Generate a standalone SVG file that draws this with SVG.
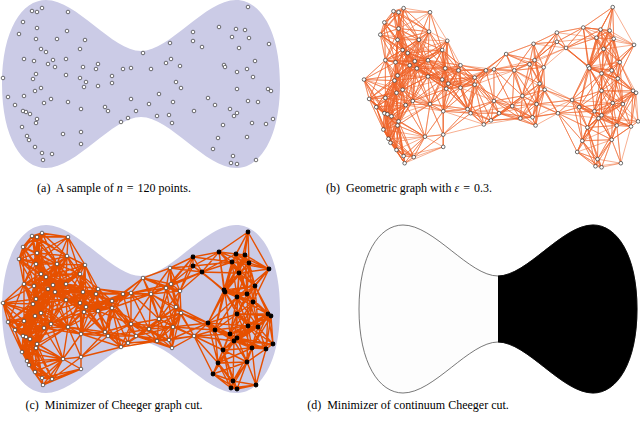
<svg xmlns="http://www.w3.org/2000/svg" width="640" height="421" viewBox="0 0 640 421">
<style>
.cap{font-family:"Liberation Serif","Times New Roman",serif;font-size:12px;fill:#000}
.shape{fill:#cbcbe6}
.wp{fill:#fff;stroke:#333;stroke-width:0.7}
</style>
<defs>
<path id="S" d="M0 84C0 30 20 0 44 0C75 0 110 51 139 51C168 51 203 0 234 0C258 0 278 30 278 84C278 138 258 168 234 168C203 168 168 117 139 117C110 117 75 168 44 168C20 168 0 138 0 84Z"/>
<path id="E" fill="none" stroke-linecap="round" d="M3 78 8 97 3 78 15 105 3 78 23 111 3 78 24 59 3 78 24 96 3 78 26 112 3 78 33 79 3 78 34 61 3 78 35 91 3 78 36 74 3 78 41 88
M8 97 15 105 8 97 22 127 8 97 23 111 8 97 24 59 8 97 24 96 8 97 26 112 8 97 30 114 8 97 33 79 8 97 35 91 8 97 36 74 8 97 36 123 8 97 37 119 8 97 41 88 8 97 44 103
M15 105 22 127 15 105 23 111 15 105 24 96 15 105 26 112 15 105 27 136 15 105 29 140 15 105 30 114 15 105 33 79 15 105 35 91 15 105 36 74 15 105 36 123 15 105 37 119 15 105 41 88 15 105 44 103 15 105 51 99
M19 34 23 22 19 34 24 59 19 34 32 11 19 34 34 61 19 34 36 39 19 34 37 12 19 34 37 28 19 34 41 49 19 34 42 8 19 34 46 52 19 34 48 64 19 34 53 60 19 34 57 39
M22 127 23 111 22 127 24 96 22 127 26 112 22 127 27 136 22 127 29 140 22 127 30 114 22 127 35 91 22 127 35 147 22 127 36 123 22 127 37 119 22 127 42 153 22 127 43 160 22 127 44 103 22 127 51 99 22 127 52 154 22 127 63 134
M23 22 24 59 23 22 32 11 23 22 34 61 23 22 36 39 23 22 37 12 23 22 37 28 23 22 41 49 23 22 42 8 23 22 46 52 23 22 57 39
M23 111 24 96 23 111 26 112 23 111 27 136 23 111 29 140 23 111 30 114 23 111 33 79 23 111 35 91 23 111 35 147 23 111 36 74 23 111 36 123 23 111 37 119 23 111 41 88 23 111 44 103 23 111 51 99
M24 59 24 96 24 59 33 79 24 59 34 61 24 59 35 91 24 59 36 39 24 59 36 74 24 59 37 28 24 59 41 49 24 59 41 88 24 59 46 52 24 59 48 64 24 59 53 60 24 59 55 67 24 59 57 39 24 59 66 59
M24 96 26 112 24 96 27 136 24 96 30 114 24 96 33 79 24 96 34 61 24 96 35 91 24 96 36 74 24 96 36 123 24 96 37 119 24 96 41 88 24 96 44 103 24 96 48 64 24 96 51 99 24 96 55 67
M26 112 27 136 26 112 29 140 26 112 30 114 26 112 33 79 26 112 35 91 26 112 35 147 26 112 36 74 26 112 36 123 26 112 37 119 26 112 41 88 26 112 44 103 26 112 51 99
M27 136 29 140 27 136 30 114 27 136 35 147 27 136 36 123 27 136 37 119 27 136 42 153 27 136 43 160 27 136 44 103 27 136 52 154 27 136 63 134
M29 140 30 114 29 140 35 147 29 140 36 123 29 140 37 119 29 140 42 153 29 140 43 160 29 140 44 103 29 140 52 154 29 140 63 134
M30 114 33 79 30 114 35 91 30 114 35 147 30 114 36 74 30 114 36 123 30 114 37 119 30 114 41 88 30 114 42 153 30 114 44 103 30 114 51 99 30 114 63 134 30 114 68 102
M32 11 36 39 32 11 37 12 32 11 37 28 32 11 41 49 32 11 42 8 32 11 57 39 32 11 67 31 32 11 68 12
M33 79 34 61 33 79 35 91 33 79 36 39 33 79 36 74 33 79 37 119 33 79 41 49 33 79 41 88 33 79 44 103 33 79 46 52 33 79 48 64 33 79 51 99 33 79 53 60 33 79 55 67 33 79 66 59 33 79 66 75 33 79 68 102
M34 61 35 91 34 61 36 39 34 61 36 74 34 61 37 28 34 61 41 49 34 61 41 88 34 61 46 52 34 61 48 64 34 61 53 60 34 61 55 67 34 61 57 39 34 61 66 59 34 61 66 75
M35 91 36 74 35 91 36 123 35 91 37 119 35 91 41 88 35 91 44 103 35 91 46 52 35 91 48 64 35 91 51 99 35 91 53 60 35 91 55 67 35 91 66 75 35 91 68 102
M35 147 36 123 35 147 37 119 35 147 42 153 35 147 43 160 35 147 52 154 35 147 63 134
M36 39 36 74 36 39 37 12 36 39 37 28 36 39 41 49 36 39 42 8 36 39 46 52 36 39 48 64 36 39 53 60 36 39 55 67 36 39 57 39 36 39 66 59 36 39 67 31 36 39 68 12
M36 74 41 49 36 74 41 88 36 74 44 103 36 74 46 52 36 74 48 64 36 74 51 99 36 74 53 60 36 74 55 67 36 74 57 39 36 74 66 59 36 74 66 75 36 74 68 102
M36 123 37 119 36 123 42 153 36 123 43 160 36 123 44 103 36 123 51 99 36 123 52 154 36 123 63 134 36 123 68 102 36 123 41 88
M37 12 37 28 37 12 41 49 37 12 42 8 37 12 46 52 37 12 57 39 37 12 67 31 37 12 68 12
M37 28 41 49 37 28 42 8 37 28 46 52 37 28 48 64 37 28 53 60 37 28 57 39 37 28 66 59 37 28 67 31 37 28 68 12
M37 119 41 88 37 119 42 153 37 119 43 160 37 119 44 103 37 119 51 99 37 119 52 154 37 119 63 134 37 119 68 102
M41 49 41 88 41 49 42 8 41 49 46 52 41 49 48 64 41 49 53 60 41 49 55 67 41 49 57 39 41 49 66 59 41 49 66 75 41 49 67 31 41 49 80 49
M41 88 44 103 41 88 46 52 41 88 48 64 41 88 51 99 41 88 53 60 41 88 55 67 41 88 66 59 41 88 66 75 41 88 68 102 41 88 80 78
M42 8 57 39 42 8 67 31 42 8 68 12
M42 153 43 160 42 153 52 154 42 153 63 134 42 153 81 144
M43 160 52 154 43 160 63 134 43 160 81 144
M44 103 48 64 44 103 51 99 44 103 55 67 44 103 63 134 44 103 66 75 44 103 68 102 44 103 81 109
M46 52 48 64 46 52 53 60 46 52 55 67 46 52 57 39 46 52 66 59 46 52 66 75 46 52 67 31 46 52 80 49 46 52 80 78 46 52 83 67 46 52 85 40
M48 64 51 99 48 64 53 60 48 64 55 67 48 64 57 39 48 64 66 59 48 64 66 75 48 64 67 31 48 64 68 102 48 64 80 49 48 64 80 78 48 64 83 67 48 64 84 87 48 64 86 82
M51 99 53 60 51 99 55 67 51 99 63 134 51 99 66 59 51 99 66 75 51 99 68 102 51 99 80 78 51 99 81 109 51 99 84 87 51 99 86 82
M52 154 63 134 52 154 81 132 52 154 81 144
M53 60 55 67 53 60 57 39 53 60 66 59 53 60 66 75 53 60 67 31 53 60 80 49 53 60 80 78 53 60 83 67 53 60 84 87 53 60 85 40 53 60 86 82
M55 67 57 39 55 67 66 59 55 67 66 75 55 67 67 31 55 67 68 102 55 67 80 49 55 67 80 78 55 67 83 67 55 67 84 87 55 67 85 40 55 67 86 82 55 67 96 69
M57 39 66 59 57 39 66 75 57 39 67 31 57 39 68 12 57 39 80 49 57 39 83 67 57 39 85 40
M63 134 68 102 63 134 81 109 63 134 81 132 63 134 81 144
M66 59 66 75 66 59 67 31 66 59 80 49 66 59 80 78 66 59 83 67 66 59 84 87 66 59 85 40 66 59 86 82 66 59 96 69 66 59 98 64 66 59 98 86
M66 75 68 102 66 75 80 49 66 75 80 78 66 75 81 109 66 75 83 67 66 75 84 87 66 75 85 40 66 75 86 82 66 75 96 69 66 75 98 64 66 75 98 86
M67 31 68 12 67 31 80 49 67 31 83 67 67 31 85 40
M68 12 80 49 68 12 85 40
M68 102 80 78 68 102 81 109 68 102 81 132 68 102 83 67 68 102 84 87 68 102 86 82 68 102 98 86 68 102 105 107 68 102 108 111
M80 49 80 78 80 49 83 67 80 49 84 87 80 49 85 40 80 49 86 82 80 49 96 69 80 49 98 64 80 49 98 86 80 49 112 76
M80 78 81 109 80 78 83 67 80 78 84 87 80 78 85 40 80 78 86 82 80 78 96 69 80 78 98 64 80 78 98 86 80 78 105 107 80 78 112 76 80 78 112 83
M81 109 81 132 81 109 81 144 81 109 83 67 81 109 84 87 81 109 86 82 81 109 96 69 81 109 98 86 81 109 105 107 81 109 108 111 81 109 112 83 81 109 121 122
M81 132 81 144 81 132 105 107 81 132 108 111 81 132 121 122
M83 67 84 87 83 67 85 40 83 67 86 82 83 67 96 69 83 67 98 64 83 67 98 86 83 67 112 76 83 67 112 83 83 67 123 69
M84 87 86 82 84 87 96 69 84 87 98 64 84 87 98 86 84 87 105 107 84 87 108 111 84 87 112 76 84 87 112 83 84 87 123 69
M85 40 86 82 85 40 96 69 85 40 98 64
M86 82 96 69 86 82 98 64 86 82 98 86 86 82 105 107 86 82 108 111 86 82 112 76 86 82 112 83 86 82 123 69
M96 69 98 64 96 69 98 86 96 69 105 107 96 69 112 76 96 69 112 83 96 69 123 69 96 69 131 68
M98 64 98 86 98 64 112 76 98 64 112 83 98 64 123 69 98 64 131 68
M98 86 105 107 98 86 108 111 98 86 112 76 98 86 112 83 98 86 121 122 98 86 123 69 98 86 131 68 98 86 131 99
M105 107 108 111 105 107 112 76 105 107 112 83 105 107 121 122 105 107 123 69 105 107 128 118 105 107 131 99 105 107 136 111
M108 111 112 76 108 111 112 83 108 111 121 122 108 111 128 118 108 111 131 99 108 111 136 111 108 111 149 104
M112 76 112 83 112 76 123 69 112 76 131 68 112 76 131 99 112 76 136 111 112 76 143 53 112 76 151 69
M112 83 121 122 112 83 123 69 112 83 128 118 112 83 131 68 112 83 131 99 112 83 136 111 112 83 149 104 112 83 151 69
M121 122 128 118 121 122 131 99 121 122 136 111 121 122 149 104 121 122 157 116
M123 69 131 68 123 69 131 99 123 69 143 53 123 69 151 69
M128 118 131 99 128 118 136 111 128 118 149 104 128 118 157 116 128 118 159 94 128 118 169 115
M131 68 131 99 131 68 143 53 131 68 149 104 131 68 151 69 131 68 159 94 131 68 166 63 131 68 171 59
M131 99 136 111 131 99 149 104 131 99 151 69 131 99 157 116 131 99 159 94 131 99 169 115 131 99 173 102
M136 111 149 104 136 111 157 116 136 111 159 94 136 111 169 115 136 111 172 123 136 111 173 102
M143 53 151 69 143 53 159 94 143 53 166 63 143 53 170 43 143 53 171 59 143 53 180 66
M149 104 151 69 149 104 157 116 149 104 159 94 149 104 169 115 149 104 172 123 149 104 173 102 149 104 176 82 149 104 181 88
M151 69 159 94 151 69 166 63 151 69 170 43 151 69 171 59 151 69 173 102 151 69 176 82 151 69 180 66 151 69 181 88
M157 116 159 94 157 116 169 115 157 116 172 123 157 116 173 102 157 116 176 82 157 116 181 88 157 116 194 111
M159 94 166 63 159 94 169 115 159 94 171 59 159 94 172 123 159 94 173 102 159 94 176 82 159 94 180 66 159 94 181 88 159 94 194 111
M166 63 170 43 166 63 171 59 166 63 173 102 166 63 176 82 166 63 180 66 166 63 181 88 166 63 193 32 166 63 193 41 166 63 202 47
M169 115 172 123 169 115 173 102 169 115 176 82 169 115 181 88 169 115 194 111 169 115 208 98
M170 43 171 59 170 43 176 82 170 43 180 66 170 43 193 32 170 43 193 41 170 43 202 47
M171 59 176 82 171 59 180 66 171 59 181 88 171 59 193 32 171 59 193 41 171 59 202 47
M172 123 173 102 172 123 176 82 172 123 181 88 172 123 194 111
M173 102 176 82 173 102 180 66 173 102 181 88 173 102 194 111 173 102 208 98 173 102 215 105
M176 82 180 66 176 82 181 88 176 82 194 111 176 82 208 98
M180 66 181 88 180 66 193 32 180 66 193 41 180 66 202 47
M181 88 194 111 181 88 208 98 181 88 215 105
M193 32 193 41 193 32 202 47 193 32 219 27 193 32 232 37
M193 41 202 47 193 41 219 27 193 41 224 65 193 41 232 37
M194 111 208 98 194 111 213 149 194 111 215 105 194 111 218 138 194 111 223 125 194 111 230 109 194 111 234 116
M202 47 219 27 202 47 224 65 202 47 225 67 202 47 232 37 202 47 236 29 202 47 239 48
M208 98 215 105 208 98 218 138 208 98 223 125 208 98 224 65 208 98 225 67 208 98 230 109 208 98 234 116 208 98 237 113 208 98 237 72 208 98 237 89 208 98 248 101
M213 149 218 138 213 149 223 125 213 149 231 163 213 149 233 156 213 149 234 116 213 149 237 164 213 149 247 137
M215 105 218 138 215 105 223 125 215 105 224 65 215 105 225 67 215 105 230 109 215 105 234 116 215 105 237 113 215 105 237 72 215 105 237 89 215 105 248 101 215 105 252 123
M218 138 223 125 218 138 230 109 218 138 231 163 218 138 233 156 218 138 234 116 218 138 237 113 218 138 237 164 218 138 247 137 218 138 252 123
M219 27 224 65 219 27 225 67 219 27 232 37 219 27 236 29 219 27 239 48 219 27 245 30 219 27 248 7 219 27 249 38
M223 125 230 109 223 125 231 163 223 125 233 156 223 125 234 116 223 125 237 113 223 125 237 89 223 125 237 164 223 125 247 137 223 125 248 101 223 125 252 123 223 125 258 102
M224 65 225 67 224 65 232 37 224 65 236 29 224 65 237 72 224 65 237 89 224 65 239 48 224 65 245 30 224 65 247 69 224 65 249 38 224 65 253 77 224 65 255 61
M225 67 230 109 225 67 232 37 225 67 236 29 225 67 237 72 225 67 237 89 225 67 239 48 225 67 245 30 225 67 247 69 225 67 248 101 225 67 249 38 225 67 253 77 225 67 255 61
M230 109 234 116 230 109 237 113 230 109 237 89 230 109 237 72 230 109 247 137 230 109 248 101 230 109 252 123 230 109 253 77 230 109 258 102 230 109 266 124 230 109 268 89
M231 163 233 156 231 163 237 164 231 163 247 137 231 163 256 160
M232 37 236 29 232 37 237 72 232 37 239 48 232 37 245 30 232 37 247 69 232 37 248 7 232 37 249 38 232 37 255 61 232 37 269 44
M233 156 234 116 233 156 237 164 233 156 247 137 233 156 252 123 233 156 256 160
M234 116 237 113 234 116 237 89 234 116 247 137 234 116 248 101 234 116 252 123 234 116 258 102 234 116 266 124 234 116 273 119
M236 29 239 48 236 29 245 30 236 29 247 69 236 29 248 7 236 29 249 38 236 29 255 61 236 29 269 44
M237 113 237 72 237 113 237 89 237 113 247 137 237 113 248 101 237 113 252 123 237 113 253 77 237 113 258 102 237 113 266 124 237 113 268 89 237 113 271 91 237 113 273 119
M237 72 237 89 237 72 239 48 237 72 247 69 237 72 248 101 237 72 249 38 237 72 253 77 237 72 255 61 237 72 258 102 237 72 268 89 237 72 269 44 237 72 271 91
M237 89 239 48 237 89 247 69 237 89 248 101 237 89 252 123 237 89 253 77 237 89 255 61 237 89 258 102 237 89 268 89 237 89 271 91
M237 164 247 137 237 164 256 160
M239 48 245 30 239 48 247 69 239 48 248 7 239 48 249 38 239 48 253 77 239 48 255 61 239 48 269 44
M245 30 247 69 245 30 248 7 245 30 249 38 245 30 255 61 245 30 269 44
M247 137 248 101 247 137 252 123 247 137 256 160 247 137 258 102 247 137 266 124 247 137 273 119
M247 69 248 101 247 69 249 38 247 69 253 77 247 69 255 61 247 69 258 102 247 69 268 89 247 69 269 44 247 69 271 91
M248 7 249 38 248 7 269 44
M248 101 252 123 248 101 253 77 248 101 255 61 248 101 258 102 248 101 266 124 248 101 268 89 248 101 271 91 248 101 273 119
M249 38 253 77 249 38 255 61 249 38 269 44
M252 123 256 160 252 123 258 102 252 123 266 124 252 123 268 89 252 123 271 91 252 123 273 119
M253 77 255 61 253 77 258 102 253 77 268 89 253 77 269 44 253 77 271 91
M255 61 258 102 255 61 268 89 255 61 269 44 255 61 271 91
M256 160 266 124
M258 102 266 124 258 102 268 89 258 102 271 91 258 102 273 119
M266 124 268 89 266 124 271 91 266 124 273 119
M268 89 271 91 268 89 273 119
M271 91 273 119"/>
<g id="PW">
<circle cx="32" cy="11" r="1.8"/><circle cx="37" cy="12" r="1.8"/><circle cx="42" cy="8" r="1.8"/><circle cx="68" cy="12" r="1.8"/><circle cx="23" cy="22" r="1.8"/><circle cx="19" cy="34" r="1.8"/><circle cx="37" cy="28" r="1.8"/><circle cx="36" cy="39" r="1.8"/><circle cx="67" cy="31" r="1.8"/><circle cx="57" cy="39" r="1.8"/><circle cx="85" cy="40" r="1.8"/><circle cx="80" cy="49" r="1.8"/><circle cx="41" cy="49" r="1.8"/><circle cx="46" cy="52" r="1.8"/><circle cx="24" cy="59" r="1.8"/><circle cx="34" cy="61" r="1.8"/><circle cx="53" cy="60" r="1.8"/><circle cx="66" cy="59" r="1.8"/><circle cx="48" cy="64" r="1.8"/><circle cx="55" cy="67" r="1.8"/><circle cx="83" cy="67" r="1.8"/><circle cx="98" cy="64" r="1.8"/><circle cx="96" cy="69" r="1.8"/><circle cx="36" cy="74" r="1.8"/><circle cx="33" cy="79" r="1.8"/><circle cx="66" cy="75" r="1.8"/><circle cx="80" cy="78" r="1.8"/><circle cx="86" cy="82" r="1.8"/><circle cx="84" cy="87" r="1.8"/><circle cx="3" cy="78" r="1.8"/><circle cx="41" cy="88" r="1.8"/><circle cx="35" cy="91" r="1.8"/><circle cx="98" cy="86" r="1.8"/><circle cx="112" cy="76" r="1.8"/><circle cx="112" cy="83" r="1.8"/><circle cx="123" cy="69" r="1.8"/><circle cx="131" cy="68" r="1.8"/><circle cx="8" cy="97" r="1.8"/><circle cx="24" cy="96" r="1.8"/><circle cx="15" cy="105" r="1.8"/><circle cx="44" cy="103" r="1.8"/><circle cx="51" cy="99" r="1.8"/><circle cx="68" cy="102" r="1.8"/><circle cx="23" cy="111" r="1.8"/><circle cx="26" cy="112" r="1.8"/><circle cx="30" cy="114" r="1.8"/><circle cx="37" cy="119" r="1.8"/><circle cx="36" cy="123" r="1.8"/><circle cx="81" cy="109" r="1.8"/><circle cx="105" cy="107" r="1.8"/><circle cx="108" cy="111" r="1.8"/><circle cx="22" cy="127" r="1.8"/><circle cx="63" cy="134" r="1.8"/><circle cx="81" cy="132" r="1.8"/><circle cx="27" cy="136" r="1.8"/><circle cx="29" cy="140" r="1.8"/><circle cx="81" cy="144" r="1.8"/><circle cx="35" cy="147" r="1.8"/><circle cx="42" cy="153" r="1.8"/><circle cx="52" cy="154" r="1.8"/><circle cx="43" cy="160" r="1.8"/><circle cx="143" cy="53" r="1.8"/><circle cx="170" cy="43" r="1.8"/><circle cx="171" cy="59" r="1.8"/><circle cx="166" cy="63" r="1.8"/><circle cx="180" cy="66" r="1.8"/><circle cx="151" cy="69" r="1.8"/><circle cx="176" cy="82" r="1.8"/><circle cx="181" cy="88" r="1.8"/><circle cx="159" cy="94" r="1.8"/><circle cx="131" cy="99" r="1.8"/><circle cx="149" cy="104" r="1.8"/><circle cx="173" cy="102" r="1.8"/><circle cx="136" cy="111" r="1.8"/><circle cx="157" cy="116" r="1.8"/><circle cx="169" cy="115" r="1.8"/><circle cx="172" cy="123" r="1.8"/><circle cx="128" cy="118" r="1.8"/><circle cx="121" cy="122" r="1.8"/><circle cx="194" cy="111" r="1.8"/>
</g>
<g id="PB">
<circle cx="193" cy="32" r="1.8"/><circle cx="193" cy="41" r="1.8"/><circle cx="202" cy="47" r="1.8"/><circle cx="219" cy="27" r="1.8"/><circle cx="236" cy="29" r="1.8"/><circle cx="245" cy="30" r="1.8"/><circle cx="248" cy="7" r="1.8"/><circle cx="232" cy="37" r="1.8"/><circle cx="249" cy="38" r="1.8"/><circle cx="269" cy="44" r="1.8"/><circle cx="239" cy="48" r="1.8"/><circle cx="224" cy="65" r="1.8"/><circle cx="225" cy="67" r="1.8"/><circle cx="255" cy="61" r="1.8"/><circle cx="247" cy="69" r="1.8"/><circle cx="237" cy="72" r="1.8"/><circle cx="253" cy="77" r="1.8"/><circle cx="237" cy="89" r="1.8"/><circle cx="268" cy="89" r="1.8"/><circle cx="271" cy="91" r="1.8"/><circle cx="208" cy="98" r="1.8"/><circle cx="215" cy="105" r="1.8"/><circle cx="248" cy="101" r="1.8"/><circle cx="258" cy="102" r="1.8"/><circle cx="230" cy="109" r="1.8"/><circle cx="237" cy="113" r="1.8"/><circle cx="234" cy="116" r="1.8"/><circle cx="223" cy="125" r="1.8"/><circle cx="252" cy="123" r="1.8"/><circle cx="266" cy="124" r="1.8"/><circle cx="273" cy="119" r="1.8"/><circle cx="218" cy="138" r="1.8"/><circle cx="247" cy="137" r="1.8"/><circle cx="213" cy="149" r="1.8"/><circle cx="233" cy="156" r="1.8"/><circle cx="231" cy="163" r="1.8"/><circle cx="237" cy="164" r="1.8"/><circle cx="256" cy="160" r="1.8"/>
</g>
<clipPath id="cr"><rect x="139" y="-5" width="150" height="180"/></clipPath>
</defs>
<g id="panel-a">
<use href="#S" class="shape" transform="translate(2 0)"/>
<use href="#PW" class="wp"/>
<use href="#PB" class="wp"/>
</g>
<g id="panel-b" transform="translate(361 0) scale(1.015 1.02)">
<g id="edges-b"><use href="#E" stroke="#f0642a" stroke-width="0.6" stroke-opacity="0.85"/></g>
<use href="#PW" class="wp"/>
<use href="#PB" class="wp"/>
</g>
<g id="panel-c" transform="translate(0 225)">
<use href="#S" class="shape" transform="translate(2 0)"/>
<g id="edges-c"><use href="#E" stroke="#e65000" stroke-width="1.4"/></g>
<use href="#PW" class="wp"/>
<use href="#PB" fill="#000" stroke="#000" stroke-width="1.2"/>
</g>
<g id="panel-d" transform="translate(359 225)">
<use href="#S" fill="#fdfdfd" stroke="#555" stroke-width="0.8"/>
<use href="#S" fill="#000" stroke="#000" stroke-width="0.8" clip-path="url(#cr)"/>
</g>
<g id="captions">
<text class="cap" x="114" y="192" text-anchor="middle">(a)&#160; A sample of <tspan font-style="italic">n</tspan>&#8196;=&#8196;120 points.</text>
<text class="cap" x="409" y="192" text-anchor="middle">(b)&#160; Geometric graph with <tspan font-style="italic">ε</tspan>&#8196;=&#8196;0.3.</text>
<text class="cap" x="114" y="409" text-anchor="middle">(c)&#160; Minimizer of Cheeger graph cut.</text>
<text class="cap" x="408" y="409" text-anchor="middle">(d)&#160; Minimizer of continuum Cheeger cut.</text>
</g>
</svg>
